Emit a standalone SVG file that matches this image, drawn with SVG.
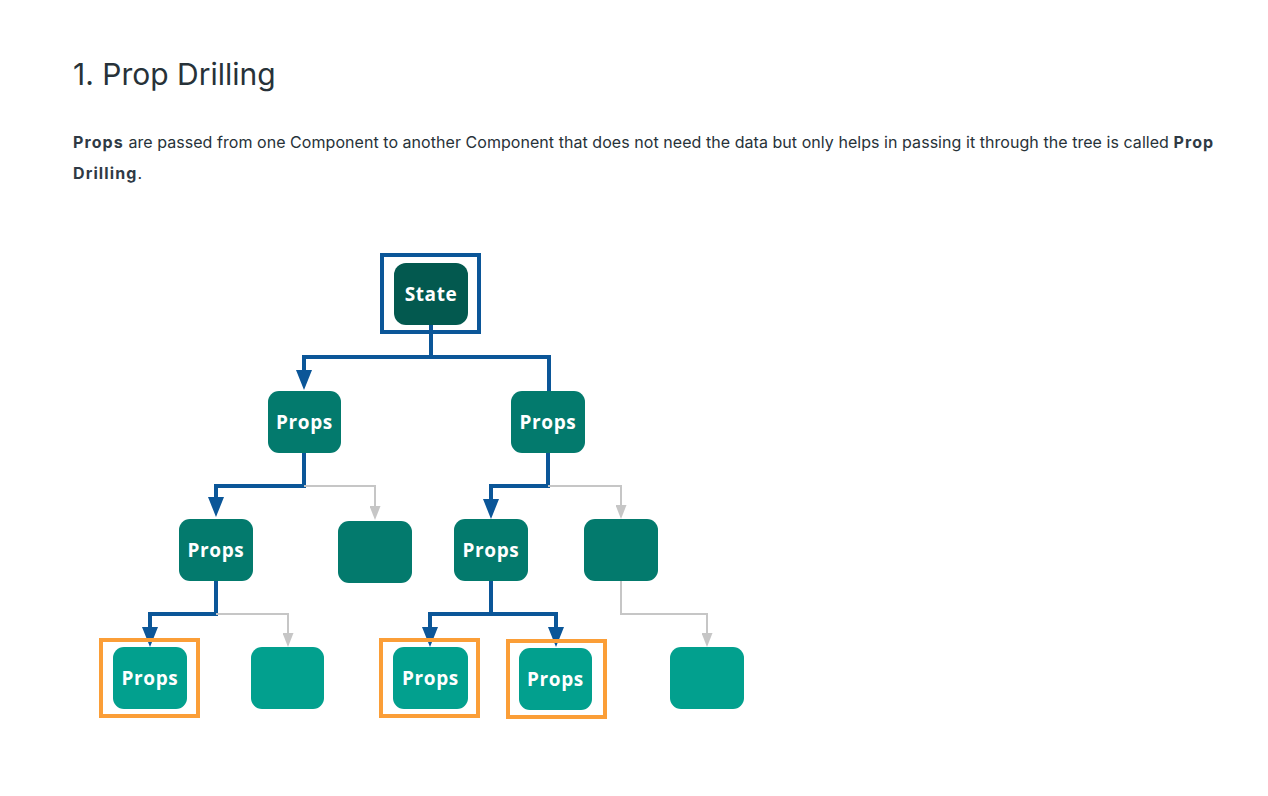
<svg xmlns="http://www.w3.org/2000/svg" width="1268" height="796" viewBox="0 0 1268 796">
<style>
.title{font-family:Inter,"Liberation Sans",sans-serif;font-size:30px;fill:#273239}
.para{font-family:Inter,"Liberation Sans",sans-serif;font-size:16px;fill:#273239;letter-spacing:0.05px}
.b{font-weight:700;letter-spacing:1.1px;fill:#2f3a45}
.lbl{font-family:"Open Sans","Noto Sans",sans-serif;font-weight:700;font-size:19px;fill:#fff;text-anchor:middle;letter-spacing:0.6px}
.n0{fill:#03594f}
.n1{fill:#037a6d}
.n2{fill:#02a08e}
.blue{fill:none;stroke:#0b5698;stroke-width:4}
.gray{fill:none;stroke:#c6c6c6;stroke-width:2}
.hlB{fill:none;stroke:#0b5698;stroke-width:4}
.hlO{fill:none;stroke:#fb9e37;stroke-width:4}
</style>
<defs>
<marker id="ab" markerUnits="userSpaceOnUse" markerWidth="20" markerHeight="16" refX="0" refY="8" orient="auto" viewBox="0 0 20 16">
<path d="M0,0 L20,8 L0,16 z" fill="#0b5698"/>
</marker>
<marker id="ag" markerUnits="userSpaceOnUse" markerWidth="14" markerHeight="11" refX="0" refY="5.5" orient="auto" viewBox="0 0 14 11">
<path d="M0,0 L14,5.5 L0,11 z" fill="#c6c6c6"/>
</marker>
</defs>
<rect width="1268" height="796" fill="#fff"/>
<text class="title" x="73" y="85">1. Prop Drilling</text>
<text class="para" x="73" y="148"><tspan class="b">Props</tspan> are passed from one Component to another Component that does not need the data but only helps in passing it through the tree is called <tspan class="b">Prop</tspan></text>
<text class="para" x="73" y="179"><tspan class="b">Drilling</tspan>.</text>

<g id="connectors">
<path class="blue" d="M431,325 V357 H304 V370" marker-end="url(#ab)"/>
<path class="blue" d="M431,357 H549 V391"/>
<path class="blue" d="M304,453 V486 H216 V497" marker-end="url(#ab)"/>
<path class="gray" d="M304,486 H375 V506" marker-end="url(#ag)"/>
<path class="blue" d="M548,453 V486 H491 V499" marker-end="url(#ab)"/>
<path class="gray" d="M548,486 H621 V505" marker-end="url(#ag)"/>
<path class="blue" d="M216,581 V614 H150 V627" marker-end="url(#ab)"/>
<path class="gray" d="M216,614 H288 V633" marker-end="url(#ag)"/>
<path class="blue" d="M491,581 V614 H430 V627" marker-end="url(#ab)"/>
<path class="blue" d="M491,614 H556 V627" marker-end="url(#ab)"/>
<path class="gray" d="M621,581 V614 H707 V633" marker-end="url(#ag)"/>
</g>

<g id="state">
<rect class="hlB" x="382" y="255" width="97" height="77"/>
<rect class="n0" x="394" y="263" width="74" height="62" rx="12"/>
<text class="lbl" x="431" y="301">State</text>
</g>
<g id="props-l1a">
<rect class="n1" x="268" y="391" width="73" height="62" rx="11"/>
<text class="lbl" x="304.5" y="429">Props</text>
</g>
<g id="props-l1b">
<rect class="n1" x="511" y="391" width="74" height="62" rx="11"/>
<text class="lbl" x="548" y="429">Props</text>
</g>
<g id="props-l2a">
<rect class="n1" x="179" y="519" width="74" height="62" rx="11"/>
<text class="lbl" x="216" y="557">Props</text>
</g>
<g id="empty-l2b">
<rect class="n1" x="338" y="521" width="74" height="62" rx="11"/>
</g>
<g id="props-l2c">
<rect class="n1" x="454" y="519" width="74" height="62" rx="11"/>
<text class="lbl" x="491" y="557">Props</text>
</g>
<g id="empty-l2d">
<rect class="n1" x="584" y="519" width="74" height="62" rx="11"/>
</g>
<g id="props-l3a">
<rect class="hlO" x="101" y="640" width="97" height="76"/>
<rect class="n2" x="113" y="647" width="74" height="62" rx="11"/>
<text class="lbl" x="150" y="685">Props</text>
</g>
<g id="empty-l3b">
<rect class="n2" x="251" y="647" width="73" height="62" rx="11"/>
</g>
<g id="props-l3c">
<rect class="hlO" x="381" y="640" width="97" height="76"/>
<rect class="n2" x="393" y="647" width="75" height="62" rx="11"/>
<text class="lbl" x="430.5" y="685">Props</text>
</g>
<g id="props-l3d">
<rect class="hlO" x="508" y="641" width="97" height="76"/>
<rect class="n2" x="519" y="648" width="73" height="62" rx="11"/>
<text class="lbl" x="555.5" y="686">Props</text>
</g>
<g id="empty-l3e">
<rect class="n2" x="670" y="647" width="74" height="62" rx="11"/>
</g>
</svg>
